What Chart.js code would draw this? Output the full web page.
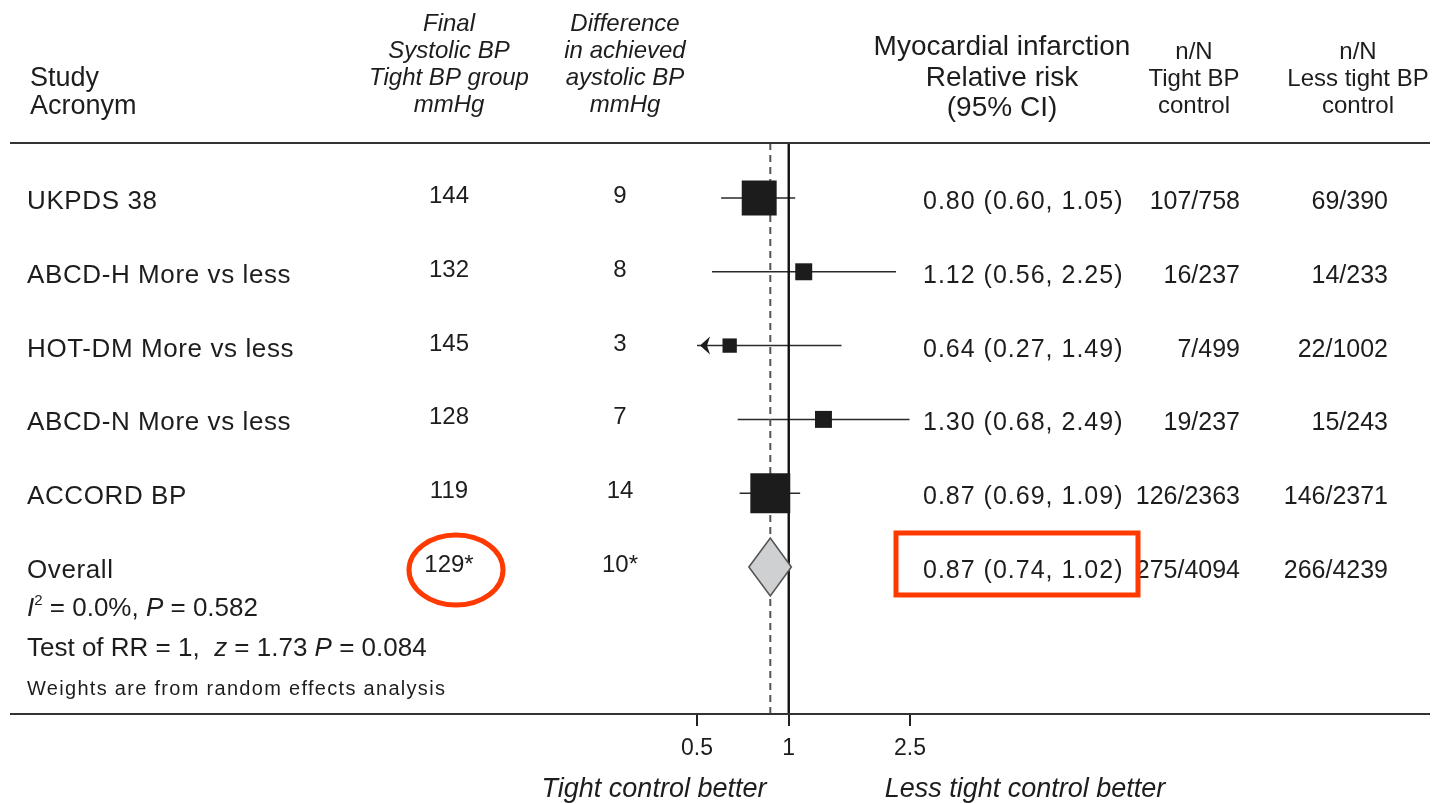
<!DOCTYPE html>
<html lang="en">
<head>
    <meta charset="UTF-8">
    <title>Tight BP control and myocardial infarction</title>
    <script src="https://cdn.jsdelivr.net/npm/chart.js"></script>
    <style>
        body { margin: 0; background: #fff; }
        canvas { display: block; }
    </style>
</head>
<body>
    <canvas id="forestchart" width="1438" height="803"></canvas>
    <script>
        // Trial rows
        const studies = ['UKPDS 38', 'ABCD-H More vs less', 'HOT-DM More vs less', 'ABCD-N More vs less', 'ACCORD BP'];
        const finalSbp = ['144', '132', '145', '128', '119'];
        const sbpDifference = ['9', '8', '3', '7', '14'];
        const rr = [0.80, 1.12, 0.64, 1.30, 0.87];
        const rrLow = [0.60, 0.56, 0.27, 0.68, 0.69];
        const rrHigh = [1.05, 2.25, 1.49, 2.49, 1.09];
        const weights = [33.9, 8.0, 5.7, 8.0, 44.3]; // % weight, random effects
        const eventsTight = ['107/758', '16/237', '7/499', '19/237', '126/2363'];
        const eventsLess = ['69/390', '14/233', '22/1002', '15/243', '146/2371'];

        // Pooled estimate
        const overallRR = [0.87, 0.74, 1.02]; // estimate, lower, upper
        const overallSbp = '129*';
        const overallDifference = '10*';
        const overallTight = '275/4094';
        const overallLess = '266/4239';

        const xTicks = [0.5, 1, 2.5];
        const xMin = 0.5, xMax = 2.5;
        const yMin = -0.745, yMax = 6.992;
        const overallRow = studies.length;

        const fmt = v => v.toFixed(2);
        const rrText = (e, lo, hi) => fmt(e) + ' (' + fmt(lo) + ', ' + fmt(hi) + ')';

        const FONT = '"Liberation Sans", Arial, sans-serif';
        const INK = '#1d1d1d';

        // box side grows with sqrt(weight) so area tracks weight
        const boxRadius = weights.map(w => Math.sqrt(w) * 6.0 / Math.SQRT2);

        const datasets = [{
            label: 'estimate',
            data: rr.map((v, i) => ({ x: v, y: i })),
            pointStyle: 'rect',
            pointRadius: boxRadius,
            pointHoverRadius: boxRadius,
            backgroundColor: '#1c1c1c',
            borderWidth: 0,
            order: 0
        }, {
            label: 'no effect',
            data: [{ x: 1, y: yMin }, { x: 1, y: yMax }],
            showLine: true,
            borderColor: '#111',
            borderWidth: 2.4,
            pointRadius: 0,
            order: 1
        }, {
            label: 'overall',
            data: [{ x: overallRR[0], y: yMin }, { x: overallRR[0], y: yMax }],
            showLine: true,
            borderColor: '#555',
            borderWidth: 2,
            borderDash: [7, 5],
            pointRadius: 0,
            order: 2
        }];

        // confidence intervals, clipped to the axis range
        studies.forEach((s, i) => {
            datasets.push({
                label: s,
                data: [{ x: Math.max(rrLow[i], xMin), y: i }, { x: Math.min(rrHigh[i], xMax), y: i }],
                showLine: true,
                borderColor: '#2a2a2a',
                borderWidth: 1.5,
                pointRadius: 0,
                order: 3
            });
        });

        function drawRuns(ctx, parts, x, y) {
            parts.forEach(([text, font, dy]) => {
                ctx.font = font;
                ctx.fillText(text, x, y + (dy || 0));
                x += ctx.measureText(text).width;
            });
        }

        const forestPlugin = {
            id: 'forest',
            afterDatasetsDraw(chart) {
                const ctx = chart.ctx;
                const xs = chart.scales.x, ys = chart.scales.y;

                // arrow where a CI runs off the left end
                rrLow.forEach((lo, i) => {
                    if (lo >= xMin) return;
                    const x0 = xs.getPixelForValue(xMin) + 3;
                    const y0 = ys.getPixelForValue(i);
                    ctx.save();
                    ctx.fillStyle = '#1c1c1c';
                    ctx.beginPath();
                    ctx.moveTo(x0, y0);
                    ctx.lineTo(x0 + 10, y0 - 9);
                    ctx.lineTo(x0 + 7, y0);
                    ctx.lineTo(x0 + 10, y0 + 9);
                    ctx.closePath();
                    ctx.fill();
                    ctx.restore();
                });

                // pooled diamond
                const yc = ys.getPixelForValue(overallRow);
                const half = 29;
                ctx.save();
                ctx.beginPath();
                ctx.moveTo(xs.getPixelForValue(overallRR[1]), yc);
                ctx.lineTo(xs.getPixelForValue(overallRR[0]), yc - half);
                ctx.lineTo(xs.getPixelForValue(overallRR[2]), yc);
                ctx.lineTo(xs.getPixelForValue(overallRR[0]), yc + half);
                ctx.closePath();
                ctx.fillStyle = '#cfd0d2';
                ctx.fill();
                ctx.strokeStyle = '#555';
                ctx.lineWidth = 1.6;
                ctx.stroke();
                ctx.restore();
            },
            afterDraw(chart) {
                const ctx = chart.ctx;
                const area = chart.chartArea;
                const ys = chart.scales.y;
                ctx.save();

                // top and bottom rules
                ctx.strokeStyle = '#333';
                ctx.lineWidth = 2;
                [area.top, area.bottom].forEach(y => {
                    ctx.beginPath();
                    ctx.moveTo(10, y);
                    ctx.lineTo(1430, y);
                    ctx.stroke();
                });

                ctx.fillStyle = INK;
                ctx.textBaseline = 'alphabetic';

                // column headers
                ctx.textAlign = 'left';
                ctx.font = '27px ' + FONT;
                ctx.fillText('Study', 30, 86);
                ctx.fillText('Acronym', 30, 114);

                ctx.textAlign = 'center';
                ctx.font = 'italic 24px ' + FONT;
                ['Final', 'Systolic BP', 'Tight BP group', 'mmHg'].forEach((t, k) => ctx.fillText(t, 449, 31 + k * 27));
                ['Difference', 'in achieved', 'aystolic BP', 'mmHg'].forEach((t, k) => ctx.fillText(t, 625, 31 + k * 27));

                ctx.font = '28px ' + FONT;
                ['Myocardial infarction', 'Relative risk', '(95% CI)'].forEach((t, k) => ctx.fillText(t, 1002, 55 + k * 30.5));
                ctx.font = '24px ' + FONT;
                ['n/N', 'Tight BP', 'control'].forEach((t, k) => ctx.fillText(t, 1194, 59 + k * 27));
                ['n/N', 'Less tight BP', 'control'].forEach((t, k) => ctx.fillText(t, 1358, 59 + k * 27));

                // one row per trial, then the pooled row
                const rows = studies.map((s, i) => ({
                    label: s, sbp: finalSbp[i], diff: sbpDifference[i],
                    ci: rrText(rr[i], rrLow[i], rrHigh[i]), tight: eventsTight[i], less: eventsLess[i]
                }));
                rows.push({
                    label: 'Overall', sbp: overallSbp, diff: overallDifference,
                    ci: rrText(overallRR[0], overallRR[1], overallRR[2]), tight: overallTight, less: overallLess
                });

                rows.forEach((r, i) => {
                    const y = ys.getPixelForValue(i);
                    ctx.textAlign = 'left';
                    ctx.font = '26px ' + FONT;
                    ctx.letterSpacing = '0.6px';
                    ctx.fillText(r.label, 27, y + 11);
                    ctx.letterSpacing = '0px';

                    ctx.textAlign = 'center';
                    ctx.font = '24px ' + FONT;
                    ctx.fillText(r.sbp, 449, y + 5);
                    ctx.fillText(r.diff, 620, y + 5);

                    ctx.textAlign = 'left';
                    ctx.font = '25px ' + FONT;
                    ctx.letterSpacing = '1px';
                    ctx.fillText(r.ci, 923, y + 11);
                    ctx.letterSpacing = '0px';

                    ctx.textAlign = 'right';
                    ctx.font = '25px ' + FONT;
                    ctx.fillText(r.tight, 1240, y + 11);
                    ctx.fillText(r.less, 1388, y + 11);
                });

                // heterogeneity and overall test
                const yo = ys.getPixelForValue(overallRow);
                ctx.textAlign = 'left';
                const up = '26px ' + FONT, it = 'italic 26px ' + FONT;
                drawRuns(ctx, [['I', it], ['2', '15px ' + FONT, -11], [' = 0.0%, ', up], ['P', it], [' = 0.582', up]], 27, yo + 49);
                drawRuns(ctx, [['Test of RR = 1,  ', up], ['z', it], [' = 1.73 ', up], ['P', it], [' = 0.084', up]], 27, yo + 89);
                ctx.font = '20px ' + FONT;
                ctx.letterSpacing = '1.3px';
                ctx.fillText('Weights are from random effects analysis', 27, yo + 128);
                ctx.letterSpacing = '0px';

                // axis direction labels
                ctx.textAlign = 'center';
                ctx.font = 'italic 27px ' + FONT;
                ctx.fillText('Tight control better', 654, 797);
                ctx.fillText('Less tight control better', 1025, 797);

                // red highlights on the pooled row
                ctx.strokeStyle = '#ff3a00';
                ctx.lineWidth = 5;
                ctx.beginPath();
                ctx.ellipse(456, yo + 3, 47, 35, 0, 0, Math.PI * 2);
                ctx.stroke();
                ctx.strokeRect(896, yo - 34, 242, 62);

                ctx.restore();
            }
        };

        new Chart(document.getElementById('forestchart').getContext('2d'), {
            type: 'scatter',
            data: { datasets: datasets },
            options: {
                responsive: false,
                animation: false,
                layout: { padding: { left: 697, right: 528, top: 143, bottom: 39 } },
                plugins: {
                    legend: { display: false },
                    tooltip: { enabled: false }
                },
                scales: {
                    x: {
                        type: 'logarithmic',
                        min: xMin,
                        max: xMax,
                        afterBuildTicks: scale => { scale.ticks = xTicks.map(v => ({ value: v })); },
                        afterFit: scale => { scale.height = 50; },
                        border: { display: false },
                        grid: { drawOnChartArea: false, tickLength: 12, color: '#222', lineWidth: 2 },
                        ticks: {
                            autoSkip: false,
                            maxRotation: 0,
                            padding: 9,
                            color: INK,
                            font: { family: FONT, size: 23 },
                            callback: v => String(v)
                        }
                    },
                    y: {
                        type: 'linear',
                        reverse: true,
                        min: yMin,
                        max: yMax,
                        display: false
                    }
                }
            },
            plugins: [forestPlugin]
        });
    </script>
</body>
</html>
